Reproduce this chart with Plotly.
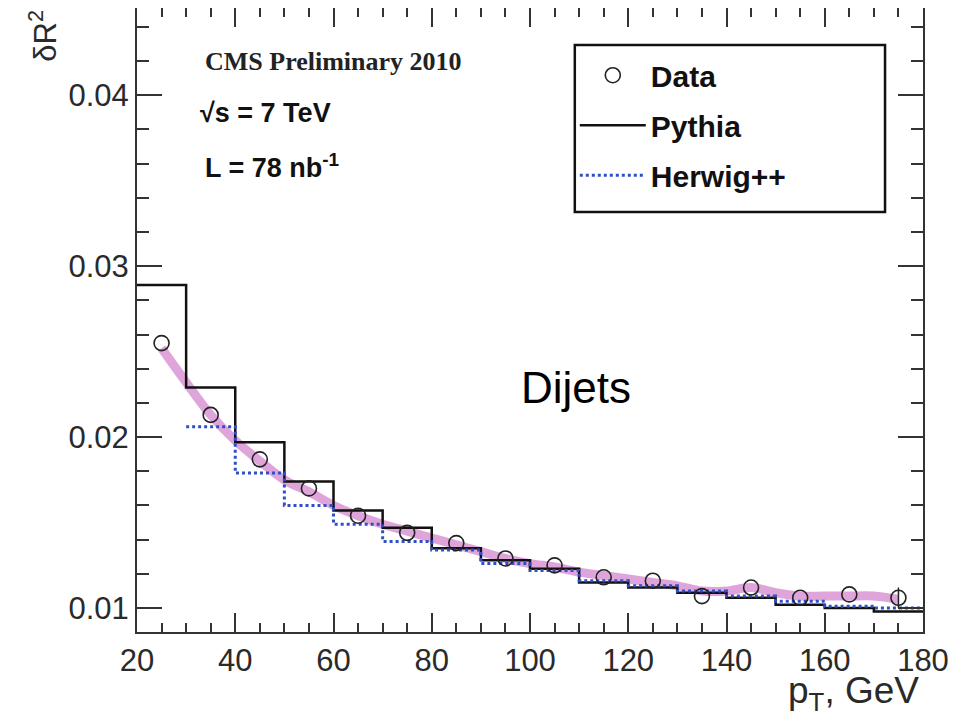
import plotly.graph_objects as go

# ---- data ----
bin_edges = [20, 30, 40, 50, 60, 70, 80, 90, 100, 110, 120, 130, 140, 150, 160, 170, 180]
pythia = [0.0289, 0.0229, 0.0197, 0.0174, 0.0157, 0.0147, 0.0135, 0.0128, 0.0123,
          0.0115, 0.0112, 0.0109, 0.0106, 0.0102, 0.0100, 0.0098]
herwig_edges = [30, 40, 50, 60, 70, 80, 90, 100, 110, 120, 130, 140, 150, 160, 170, 180]
herwig = [0.0206, 0.0179, 0.0160, 0.0149, 0.0139, 0.0134, 0.0126, 0.0122, 0.0116,
          0.0113, 0.0110, 0.0107, 0.0104, 0.0101, 0.0100]
data_x = [25, 35, 45, 55, 65, 75, 85, 95, 105, 115, 125, 135, 145, 155, 165, 175]
data_y = [0.0255, 0.0213, 0.0187, 0.0170, 0.0154, 0.0144, 0.0138, 0.0129, 0.0125,
          0.0118, 0.0116, 0.0107, 0.0112, 0.0106, 0.0108, 0.0106]
data_err = [0, 0, 0, 0, 0, 0, 0, 0, 0, 0, 0, 0, 0, 0, 0, 0.0006]
band_x = [25, 30, 35, 40, 45, 50, 55, 60, 65, 70, 75, 80, 85, 90, 95, 100, 105, 110,
          115, 120, 125, 130, 135, 140, 145, 150, 155, 160, 165, 170, 175]
band_y = [0.0252, 0.0232, 0.0213, 0.0198, 0.0186, 0.0175, 0.0168, 0.0160, 0.0154,
          0.0149, 0.0145, 0.0141, 0.0137, 0.0133, 0.0129, 0.0126, 0.0124, 0.0121,
          0.0119, 0.0117, 0.0115, 0.0113, 0.0110, 0.0110, 0.0112, 0.0109, 0.0107,
          0.0107, 0.0107, 0.0107, 0.0105]

fig = go.Figure()

fig.add_trace(go.Scatter(
    x=band_x, y=band_y, mode="lines", line=dict(color="rgba(208,122,202,0.68)", width=9, shape="spline"),
    showlegend=False, hoverinfo="skip"))

fig.add_trace(go.Scatter(
    x=bin_edges, y=pythia + [pythia[-1]], mode="lines", line=dict(color="#111111", width=2.5, shape="hv"),
    name="Pythia", legendgroup="b", legendrank=2))

fig.add_trace(go.Scatter(
    x=herwig_edges, y=herwig + [herwig[-1]], mode="lines",
    line=dict(color="#2f4fc8", width=3, shape="hv", dash="dot"),
    name="Herwig++", legendgroup="c", legendrank=3))

fig.add_trace(go.Scatter(
    x=data_x, y=data_y, mode="markers",
    marker=dict(symbol="circle-open", size=15, color="#222222", line=dict(width=1.6, color="#222222")),
    error_y=dict(type="data", array=data_err, visible=True, color="#222222", thickness=1.5, width=0),
    name="Data", legendgroup="a", legendrank=1))

axis_common = dict(
    showline=True, linecolor="#333333", linewidth=2, mirror="allticks",
    ticks="inside", tickcolor="#333333", tickwidth=2,
    showgrid=False, zeroline=False, automargin=False,
    tickfont=dict(family="Liberation Sans, Arial", size=31, color="#2a2a2a"),
)

fig.update_xaxes(range=[20, 180], tickmode="linear", tick0=20, dtick=20, ticklen=19,
                 minor=dict(dtick=5, ticklen=9, tickcolor="#333333", tickwidth=1.5, ticks="inside"),
                 **axis_common)
fig.update_yaxes(range=[0.0086, 0.0451], tickmode="linear", tick0=0.01, dtick=0.01, ticklen=25,
                 tickformat=".2f",
                 minor=dict(dtick=0.002, ticklen=12, tickcolor="#333333", tickwidth=1.5, ticks="inside"),
                 **axis_common)

ann_font = dict(family="Liberation Sans, Arial", color="#111111")
fig.add_annotation(text="<b>CMS Preliminary 2010</b>", xref="paper", yref="paper",
                   x=0.084, y=0.915, xanchor="left", yanchor="middle", showarrow=False,
                   font=dict(family="Liberation Serif, Times New Roman", size=26, color="#222222"))
fig.add_annotation(text="<b>√s = 7 TeV</b>", xref="paper", yref="paper",
                   x=0.078, y=0.832, xanchor="left", yanchor="middle", showarrow=False,
                   font=dict(size=27, **ann_font))
fig.add_annotation(text="<b>L = 78 nb<sup>-1</sup></b>", xref="paper", yref="paper",
                   x=0.084, y=0.747, xanchor="left", yanchor="middle", showarrow=False,
                   font=dict(size=27, **ann_font))
fig.add_annotation(text="Dijets", xref="paper", yref="paper",
                   x=0.5585, y=0.392, xanchor="center", yanchor="middle", showarrow=False,
                   font=dict(size=44, family="Liberation Sans, Arial", color="#000000"))
fig.add_annotation(text="δR<sup>2</sup>", xref="paper", yref="paper", textangle=-90,
                   x=-0.12, y=1.0, xanchor="center", yanchor="top", showarrow=False,
                   font=dict(size=31, family="Liberation Sans, Arial", color="#2a2a2a"))
fig.add_annotation(text="p<sub>T</sub>,&nbsp;GeV", xref="paper", yref="paper",
                   x=0.998, y=-0.098, xanchor="right", yanchor="middle", showarrow=False,
                   font=dict(size=37, family="Liberation Sans, Arial", color="#2a2a2a"))

# legend frame
fig.add_shape(type="rect", xref="paper", yref="paper", x0=0.557, x1=0.9517, y0=0.673, y1=0.9407,
              line=dict(color="#111111", width=2.5), fillcolor="white", layer="below")

# Note: page body has an 8px margin, compensated in the figure margins.
fig.update_layout(
    width=965, height=722,
    margin=dict(l=129, r=50, t=0, b=98),
    paper_bgcolor="white", plot_bgcolor="rgba(0,0,0,0)",
    showlegend=True,
    legend=dict(x=0.557, y=0.934, xanchor="left", yanchor="top",
                bgcolor="rgba(0,0,0,0)", borderwidth=0,
                font=dict(family="Liberation Sans, Arial", size=30, color="#111111", weight="bold"),
                traceorder="grouped", tracegroupgap=8, itemwidth=66),
)

fig.write_html("out.html")
